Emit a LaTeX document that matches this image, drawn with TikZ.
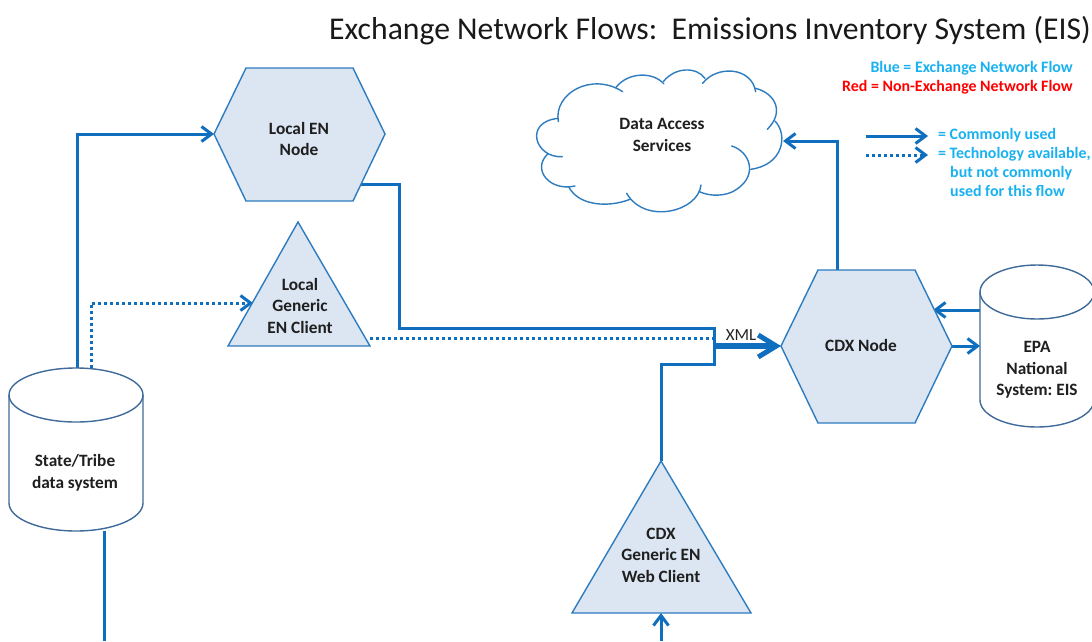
\documentclass[tikz,border=0pt]{standalone}
\usepackage{fontspec}
\setmainfont{Carlito}
\usetikzlibrary{arrows.meta,calc}
\AtBeginDocument{\frenchspacing}
\definecolor{flow}{HTML}{0F6FBE}
\definecolor{outl}{HTML}{2E7CC0}
\definecolor{cyl}{HTML}{3F6A9A}
\definecolor{shade}{HTML}{DCE6F2}
\definecolor{sky}{HTML}{19B2F0}
\tikzset{
  shapeout/.style={draw=outl,line width=1.4pt,fill=shade,line join=miter},
  cylout/.style={draw=cyl,line width=1.4pt,fill=white},
  cloudline/.style={draw=outl,line width=1.4pt,line cap=round},
  flowline/.style={draw=flow,line width=3pt,line join=miter},
  flowarrow/.style={flowline,-{Straight Barb[length=10pt,width=15pt,line width=3pt]}},
  dotline/.style={draw=flow,line width=3pt,dash pattern=on 3pt off 3pt},
  dotarrow/.style={dotline,-{Straight Barb[length=10pt,width=15pt,line width=3pt,sep=0pt]}},
  bigarrow/.style={draw=flow,line width=6pt,-{Straight Barb[length=18pt,width=22pt,line width=5pt]}},
  lbl/.style={font=\fontsize{17.3}{21.5}\selectfont\bfseries,align=center,text=black!88,inner sep=0pt},
  skylbl/.style={font=\fontsize{15.9}{19}\selectfont\bfseries,text=sky,inner sep=0pt,align=left,anchor=north west},
}
\begin{document}
\begin{tikzpicture}[x=1pt,y=-1pt]
\useasboundingbox (0,0) rectangle (1092,641);
\fill[white] (0,0) rectangle (1092,641);

% title
\node[anchor=base east,inner sep=0pt,font=\fontsize{31.7}{36}\selectfont,text=black!90] (title) at (1091,39) {Exchange Network Flows:\ \ Emissions Inventory System (EIS)};
\node[anchor=base east,inner sep=0pt,font=\fontsize{15.9}{19}\selectfont\bfseries,text=sky] (blue) at (1073,72) {Blue = Exchange Network Flow};
\node[anchor=base east,inner sep=0pt,font=\fontsize{15.9}{19}\selectfont\bfseries,text=red] (redk) at (1073,91) {Red = Non-Exchange Network Flow};

% connector coordinates
\coordinate (stateA) at (77,368);
\coordinate (stateB) at (91,368);
\coordinate (stateC) at (104,531);
\coordinate (stateOut) at (104,641);
\coordinate (localIn) at (214,134);
\coordinate (clientIn) at (253,303);
\coordinate (localOut) at (361,184);
\coordinate (clientOut) at (370,338);
\coordinate (junction) at (714,346);
\coordinate (cdxIn) at (781,346);
\coordinate (webTop) at (661,461);
\coordinate (webBase) at (661,613);
\coordinate (webFeed) at (661,641);
\coordinate (cdxTop) at (837,270);
\coordinate (cloudIn) at (783,141);
\coordinate (epaA) at (980,310);
\coordinate (cdxB) at (933,310);
\coordinate (cdxOut) at (952,346);
\coordinate (epaIn) at (980,346);
\coordinate (legA) at (866,136);
\coordinate (legB) at (928,136);
\coordinate (legC) at (866,155);
\coordinate (legD) at (928,155);

% connectors
\draw[flowarrow] (stateA) |- (localIn);
\draw[dotarrow] (stateB) |- (clientIn);
\draw[flowline] (stateC) -- (stateOut);
\draw[flowline] (localOut) -- (399,184) -- (399,328) -- (714,328) -- (junction);
\draw[dotline] (clientOut) -- (714,338);
\draw[flowline] (webTop) -- (661,364) -- (714,364) -- (junction);
\draw[bigarrow] (junction) -- (cdxIn);
\draw[flowarrow] (webFeed) -- (webBase);
\draw[flowarrow] (cdxTop) |- (cloudIn);
\draw[flowarrow] (epaA) -- (cdxB);
\draw[flowarrow] (cdxOut) -- (epaIn);

% shapes
\draw[shapeout] (214,134)--(246,68)--(353,68)--(385,134)--(353,201)--(246,201)--cycle;
\node[lbl] (local) at (299,139) {Local EN\\Node};
\draw[shapeout] (298,222)--(370,346)--(228,346)--cycle;
\node[lbl] (client) at (300,305.5) {Local\\Generic\\EN Client};
\draw[shapeout] (781,346)--(818,270)--(915,270)--(952,346)--(915,423)--(818,423)--cycle;
\node[lbl] (cdx) at (861,345) {CDX Node};
\draw[shapeout] (661,461)--(751,613)--(572,613)--cycle;
\node[lbl] (web) at (661,555) {CDX\\Generic EN\\Web Client};

% cylinders
\draw[cylout] (9,395) arc[start angle=180,end angle=360,x radius=67,y radius=27] -- (143,503) arc[start angle=0,end angle=180,x radius=67,y radius=28] -- cycle;
\draw[cyl,line width=1.4pt] (9,395) arc[start angle=180,end angle=0,x radius=67,y radius=27];
\node[lbl] (state) at (75,473) {State/Tribe\\data system};
\draw[cylout] (980,292) arc[start angle=180,end angle=360,x radius=57,y radius=27] -- (1094,400) arc[start angle=0,end angle=180,x radius=57,y radius=27] -- cycle;
\draw[cyl,line width=1.4pt] (980,292) arc[start angle=180,end angle=0,x radius=57,y radius=27];
\node[lbl] (epa) at (1037,370) {EPA\\National\\System: EIS};

% cloud
\begin{scope}[shift={(520,60)},x=0.3333pt,y=-0.3333pt]
\draw[cloudline] (115,185) .. controls (100,100) and (215,35) .. (308,95);
\draw[cloudline] (288,82) .. controls (325,35) and (400,35) .. (432,72);
\draw[cloudline] (430,65) .. controls (465,20) and (530,20) .. (555,55);
\draw[cloudline] (548,70) .. controls (590,15) and (695,20) .. (707,95);
\draw[cloudline] (707,85) .. controls (765,100) and (795,155) .. (742,208);
\draw[cloudline] (765,183) .. controls (805,225) and (790,315) .. (692,328);
\draw[cloudline] (635,258) .. controls (690,275) and (715,345) .. (650,388) .. controls (620,410) and (570,410) .. (538,395);
\draw[cloudline] (543,375) .. controls (535,455) and (375,495) .. (320,400);
\draw[cloudline] (330,418) .. controls (260,445) and (175,435) .. (147,382);
\draw[cloudline] (165,378) .. controls (90,395) and (35,330) .. (82,283);
\draw[cloudline] (127,290) .. controls (45,295) and (10,185) .. (115,175);
\end{scope}
\node[lbl] (das) at (662,135) {Data Access\\Services};

\node[anchor=base,inner sep=0pt,font=\fontsize{17}{19}\selectfont,text=black!85] (xml) at (741,340) {XML};

% legend
\draw[flowarrow] (legA) -- (legB);
\draw[dotarrow] (legC) -- (legD);
\node[skylbl] (leg1) at (938,128) {= Commonly used};
\node[skylbl] (leg2) at (938,147) {= Technology available,};
\node[skylbl] (leg3) at (950,166) {but not commonly\\used for this flow};
\end{tikzpicture}
\end{document}
